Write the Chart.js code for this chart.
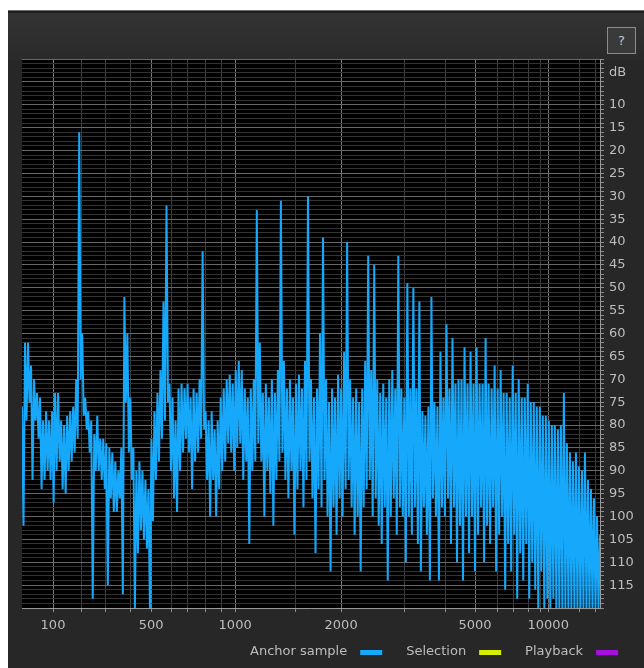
<!DOCTYPE html>
<html>
<head>
<meta charset="utf-8">
<script src="https://cdn.jsdelivr.net/npm/chart.js@4.4.1/dist/chart.umd.min.js"></script>
<style>
  html, body { margin: 0; padding: 0; background: #fff; }
  #panel {
    position: absolute; left: 8px; top: 10px; width: 636px; height: 658px;
    background: #272727; border-top: 1px solid #707070; box-sizing: border-box;
  }
  #header {
    position: absolute; left: 0; top: 0; right: 0; height: 47px;
    background: linear-gradient(#333333, #2a2a2a);
    border-top: 2px solid #1c1c1c;
  }
  #help {
    position: absolute; left: 599px; top: 14px; width: 29px; height: 27px;
    box-sizing: border-box; border: 1px solid #8c8c8c; background: #3a3a3a;
    color: #c4c4c4; font: 13px "DejaVu Sans"; line-height: 25px; text-align: center;
  }
  #spectrum { position: absolute; left: 0; top: 0; }
</style>
</head>
<body>
<div id="panel"><div id="header"><div id="help">?</div></div></div>
<canvas id="spectrum" width="644" height="668"></canvas>
<script>
/* ===== Data ===== */
// each display bin holds the highest level (peak) and the lowest level (floor) in dB
const peakDb = [
  76, 62, 62, 67, 70, 73, 74, 79, 77, 79,
  77, 73, 73, 79, 80, 78, 77, 76, 70, 16,
  60, 74, 77, 79, 82, 78, 83, 83, 84, 85,
  86, 88, 90, 85, 52, 60, 74, 85, 90, 88,
  90, 92, 94, 83, 77, 73, 68, 53, 32, 71,
  74, 79, 72, 71, 72, 71, 74, 72, 73, 70,
  42, 77, 79, 77, 81, 79, 74, 72, 70, 69,
  71, 68, 66, 68, 72, 74, 72, 70, 33, 62,
  73, 71, 74, 70, 73, 68, 31, 66, 72, 70,
  74, 71, 69, 72, 66, 30, 70, 74, 72, 60,
  39, 70, 75, 72, 74, 69, 72, 64, 40, 70,
  74, 72, 75, 72, 66, 43, 68, 45, 70, 73,
  71, 74, 70, 68, 72, 43, 72, 74, 49, 72,
  50, 72, 53, 77, 78, 76, 52, 75, 76, 64,
  74, 58, 72, 61, 71, 70, 70, 63, 71, 64,
  71, 63, 71, 71, 61, 71, 72, 67, 72, 68,
  73, 73, 74, 67, 73, 70, 74, 74, 71, 75,
  75, 76, 76, 78, 78, 79, 80, 80, 81, 80,
  73, 84, 86, 88, 86, 89, 90, 86, 92, 94,
  96, 100, 104
];
const floorDb = [
  102, 79, 75, 92, 79, 83, 94, 92, 90, 92,
  97, 90, 88, 94, 95, 90, 88, 86, 83, 70,
  78, 81, 86, 118, 90, 90, 92, 94, 115, 96,
  99, 99, 96, 117, 75, 86, 92, 120, 108, 103,
  105, 107, 120, 101, 92, 88, 83, 79, 75, 90,
  96, 99, 90, 86, 83, 86, 94, 88, 86, 83,
  81, 92, 100, 92, 100, 94, 90, 88, 84, 86,
  90, 85, 84, 92, 88, 106, 90, 88, 84, 88,
  100, 90, 95, 102, 92, 88, 86, 92, 96, 90,
  104, 94, 90, 98, 92, 88, 96, 108, 94, 98,
  92, 100, 112, 98, 104, 96, 100, 94, 92, 98,
  104, 100, 112, 98, 94, 92, 100, 96, 102, 106,
  98, 114, 100, 96, 104, 98, 100, 110, 100, 104,
  98, 106, 112, 98, 104, 114, 96, 100, 114, 98,
  100, 96, 106, 98, 110, 102, 114, 100, 108, 100,
  112, 104, 98, 110, 102, 106, 98, 112, 104, 100,
  116, 106, 112, 104, 118, 108, 114, 106, 118, 110,
  116, 120, 112, 120, 118, 120, 118, 120, 120, 120,
  120, 120, 120, 120, 120, 120, 120, 120, 120, 120,
  120, 120, 120
];

// frequency grid of the display and the bin each line falls on
const gridFreqs = [100, 200, 300, 400, 500, 600, 700, 800, 900, 1000, 1500,
  2000, 3000, 4000, 5000, 6000, 7000, 8000, 9000, 10000, 15000, 20000];
const gridBins = [10.3, 19.6, 27.9, 35.9, 42.9, 49.8, 55.1, 61.1, 66.4, 70.8, 90.7,
  106.0, 126.9, 140.8, 150.5, 157.8, 163.4, 168.1, 172.1, 174.8, 185.1, 190.4];
const labelFreqs = [100, 500, 1000, 2000, 5000, 10000];

const dbMin = 0;
const dbMax = 120;
const dbUnitAt = 3;

/* ===== Colours ===== */
const anchorColor = '#16a8fa';
const selectionColor = '#d4ee00';
const playbackColor = '#a80ee0';
const textColor = '#bdbdbd';

/* ===== Plugins ===== */
const plotBackground = {
  id: 'plotBackground',
  beforeDraw(chart) {
    const { ctx, chartArea: a } = chart;
    ctx.save();
    ctx.fillStyle = '#000';
    ctx.fillRect(a.left, a.top, a.right - a.left, a.bottom - a.top);
    ctx.restore();
  }
};

const legendRow = {
  id: 'legendRow',
  afterDraw(chart) {
    const c = chart.ctx;
    c.save();
    c.font = '13px "DejaVu Sans"';
    c.textBaseline = 'middle';
    let x = 250;
    const y = 652;
    chart.data.datasets.filter(d => d.inLegend).forEach(d => {
      c.fillStyle = textColor;
      c.fillText(d.label, x, y);
      x += c.measureText(d.label).width + 13;
      c.fillStyle = d.borderColor;
      c.fillRect(x, y - 2, 22, 5);
      x += 22 + 24;
    });
    c.restore();
  }
};

/* ===== Chart ===== */
// trace runs peak -> floor inside every bin, like a min/max spectrum display
const trace = [];
peakDb.forEach((p, i) => {
  trace.push({ x: i, y: p });
  trace.push({ x: i + 0.5, y: floorDb[i] });
});

const dbTicks = [];
for (let v = dbMin; v <= dbMax; v++) dbTicks.push(v);

const isMajorFreq = i => labelFreqs.includes(gridFreqs[i]);

new Chart(document.getElementById('spectrum'), {
  type: 'line',
  data: {
    datasets: [
      {
        label: 'Anchor sample',
        inLegend: true,
        data: trace,
        borderColor: anchorColor,
        borderWidth: 2,
        pointRadius: 0,
        fill: false
      },
      { label: 'Selection', inLegend: true, data: [], borderColor: selectionColor },
      { label: 'Playback', inLegend: true, data: [], borderColor: playbackColor }
    ]
  },
  options: {
    responsive: false,
    animation: false,
    layout: { padding: { left: 22, top: 59, right: 0, bottom: 0 } },
    plugins: {
      legend: { display: false },
      tooltip: { enabled: false }
    },
    scales: {
      x: {
        type: 'linear',
        min: 0,
        max: peakDb.length - 1,
        afterBuildTicks: s => { s.ticks = gridBins.map(v => ({ value: v })); },
        afterFit: s => { s.height = 60; },
        ticks: {
          autoSkip: false,
          maxRotation: 0,
          color: textColor,
          font: { family: 'DejaVu Sans', size: 13 },
          padding: 6,
          callback: (v, i) => isMajorFreq(i) ? String(gridFreqs[i]) : ''
        },
        grid: {
          color: c => isMajorFreq(c.index) ? '#7a7a7a' : '#3e3e3e',
          tickColor: '#8c8c8c',
          tickLength: 4
        },
        border: { color: '#9a9a9a' }
      },
      y: {
        position: 'right',
        reverse: true,
        min: dbMin,
        max: dbMax,
        afterBuildTicks: s => { s.ticks = dbTicks.map(v => ({ value: v })); },
        afterFit: s => { s.width = 44; },
        ticks: {
          autoSkip: false,
          color: textColor,
          font: { family: 'DejaVu Sans', size: 13 },
          padding: 5,
          callback: v => v === dbUnitAt ? 'dB'
            : (v % 5 === 0 && v >= 10 && v <= 115 ? String(v) : '')
        },
        grid: {
          color: c => c.tick && c.tick.value % 5 === 0 ? '#686868' : '#333333',
          tickColor: '#8c8c8c',
          tickLength: 4
        },
        border: { color: '#9a9a9a' }
      }
    }
  },
  plugins: [plotBackground, legendRow]
});
</script>
</body>
</html>
